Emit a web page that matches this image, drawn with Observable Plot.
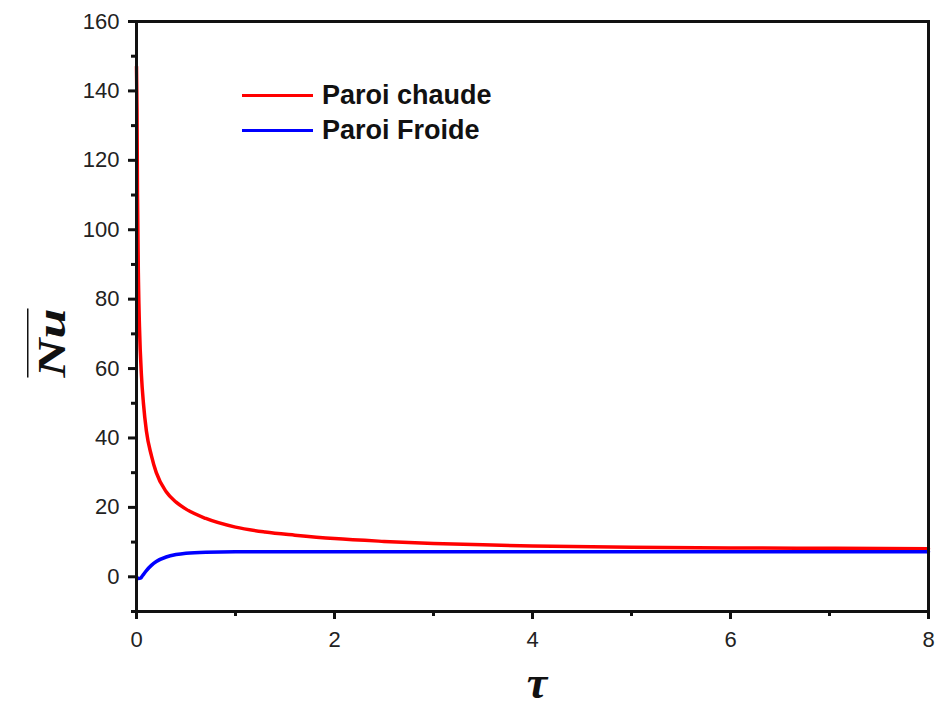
<!DOCTYPE html>
<html>
<head>
<meta charset="utf-8">
<script src="https://cdn.jsdelivr.net/npm/d3@7"></script>
<script src="https://cdn.jsdelivr.net/npm/@observablehq/plot@0.6"></script>
<style>
  body { margin: 0; background: #fff; }
  #wrap { position: relative; width: 936px; height: 714px; overflow: hidden; font-family: "Liberation Sans", Arial, sans-serif; }
  #chart svg { display: block; }
  .leg { position: absolute; left: 242px; display: flex; align-items: center; font-weight: bold; font-size: 27px; color: #111; }
  .leg .sw { width: 71px; height: 3.5px; margin-right: 9px; }
  #ylab { position: absolute; left: 51px; top: 343px; transform: translate(-50%, -50%) rotate(-90deg) scaleY(0.75);
          font-family: "Liberation Serif", "Times New Roman", serif; font-style: italic; font-weight: bold; font-size: 54px;
          text-decoration: overline; text-decoration-thickness: 2px; color: #111; white-space: nowrap; line-height: 1; }
  #xlab { position: absolute; left: 537px; top: 660px; transform: translateX(-50%);
          font-family: "Liberation Serif", "Times New Roman", serif; font-style: italic; font-weight: bold; font-size: 46px; color: #111; line-height: 1; }
</style>
</head>
<body>
<div id="wrap">
  <div id="chart"></div>
  <div class="leg" style="top:80px"><div class="sw" style="background:#ff0000"></div>Paroi chaude</div>
  <div class="leg" style="top:115px"><div class="sw" style="background:#0000ff"></div>Paroi Froide</div>
  <div id="ylab">Nu</div>
  <div id="xlab">τ</div>
</div>
<script>
// Hot wall (Paroi chaude)
const tauHot = [0, 0.005, 0.01, 0.02, 0.03, 0.05, 0.07, 0.1, 0.15, 0.2, 0.3, 0.4, 0.5, 0.7, 1, 1.3, 1.6, 2, 2.5, 3, 3.5, 4, 5, 6, 7, 8];
const nuHot  = [147, 135, 110, 85, 72, 58, 50, 42, 35, 30, 24.5, 21.5, 19.5, 16.8, 14.3, 12.9, 12, 11, 10.2, 9.6, 9.2, 8.9, 8.5, 8.3, 8.2, 8.1];
// Cold wall (Paroi Froide)
const tauCold = [0, 0.02, 0.04, 0.06, 0.1, 0.15, 0.2, 0.3, 0.4, 0.5, 0.7, 1, 1.5, 2, 3, 4, 5, 6, 7, 8];
const nuCold  = [0, -0.5, -0.4, 0.3, 1.8, 3.3, 4.4, 5.7, 6.4, 6.8, 7.1, 7.2, 7.2, 7.2, 7.2, 7.2, 7.2, 7.2, 7.2, 7.2];

const yMajor = [0, 20, 40, 60, 80, 100, 120, 140, 160];
const yMinor = [-10, 10, 30, 50, 70, 90, 110, 130, 150];
const xMajor = [0, 2, 4, 6, 8];
const xMinor = [1, 3, 5, 7];

const hot = tauHot.map((t, i) => ({t, nu: nuHot[i]}));
const cold = tauCold.map((t, i) => ({t, nu: nuCold[i]}));

const plot = Plot.plot({
  width: 936,
  height: 714,
  marginLeft: 136,
  marginRight: 8,
  marginTop: 21,
  marginBottom: 103,
  style: {fontFamily: "'Liberation Sans', Arial, sans-serif", fontSize: "22px", color: "#222", background: "#fff"},
  x: {domain: [0, 8]},
  y: {domain: [-10, 160]},
  marks: [
    Plot.line(hot, {x: "t", y: "nu", stroke: "#ff0000", strokeWidth: 3.5, curve: "monotone-x"}),
    Plot.line(cold, {x: "t", y: "nu", stroke: "#0000ff", strokeWidth: 3.5, curve: "monotone-x"}),
    Plot.axisY({ticks: yMajor, tickSize: 8, tickPadding: 9, strokeWidth: 3, fontSize: 22, label: null, stroke: "#111"}),
    Plot.axisY({ticks: yMinor, tickSize: 5, text: null, strokeWidth: 3, label: null, stroke: "#111"}),
    Plot.axisX({ticks: xMajor, tickSize: 8, tickPadding: 12, strokeWidth: 3, fontSize: 22, label: null, stroke: "#111"}),
    Plot.axisX({ticks: xMinor, tickSize: 5, text: null, strokeWidth: 3, label: null, stroke: "#111"}),
    Plot.frame({stroke: "#111", strokeWidth: 3})
  ]
});
document.getElementById("chart").appendChild(plot);
</script>
</body>
</html>
